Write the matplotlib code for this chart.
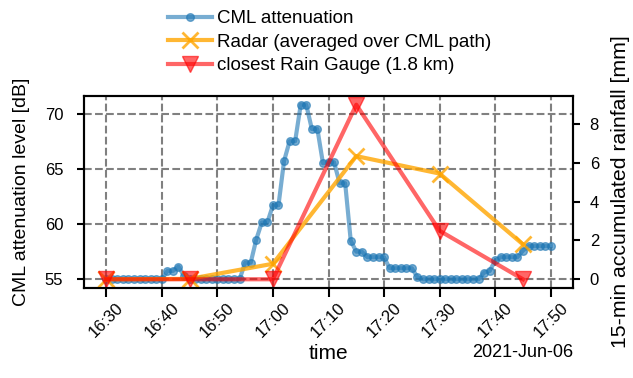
import matplotlib
matplotlib.use('Agg')
import matplotlib.pyplot as plt
import matplotlib.dates as mdates
import pandas as pd
import numpy as np

plt.rcParams['font.family'] = ['Liberation Sans', 'DejaVu Sans']
plt.rcParams['font.size'] = 12

# CML attenuation, 1-min resolution, 16:30 - 17:50
cml_time = pd.date_range('2021-06-06 16:30', '2021-06-06 17:50', freq='1min')
cml_att = [55.0] * 11 + [55.75, 55.75, 56.15, 55.3] + [55.0] * 10 + \
    [56.5, 56.5, 58.6, 60.15, 60.15,
     61.7, 61.7, 65.7, 67.5, 67.5, 70.8, 70.8, 68.6, 68.6, 65.5,
     65.6, 65.6, 63.7, 63.7, 58.5, 57.5, 57.5, 57.0, 57.0, 57.0,
     57.0, 56.0, 56.0, 56.0, 56.0, 56.0, 55.2, 55.0, 55.0, 55.0] + \
    [55.0] * 8 + [55.6, 55.75] + \
    [56.7, 57.0, 57.0, 57.0, 57.0, 57.6, 58.0, 58.0, 58.0, 58.0, 58.0]

# 15-min rainfall
rain_time = pd.date_range('2021-06-06 16:30', '2021-06-06 17:45', freq='15min')
radar_rain = [0.0, 0.02, 0.8, 6.35, 5.45, 1.8]
gauge_rain = [0.0, 0.0, 0.0, 9.0, 2.5, 0.0]

fig = plt.figure(figsize=(6.33, 3.78), dpi=100)
ax = fig.add_axes([84/633, 1-288/378, (573-84)/633, (288-96)/378])
ax2 = ax.twinx()

l1, = ax.plot(cml_time, cml_att, marker='o', color='C0', lw=3, ms=5.5, alpha=0.6,
              label='CML attenuation')
l2, = ax2.plot(rain_time, radar_rain, marker='x', color='orange', lw=3, ms=11,
               mew=2, alpha=0.8, label='Radar (averaged over CML path)')
l3, = ax2.plot(rain_time, gauge_rain, marker='v', color='red', lw=3, ms=11,
               alpha=0.6, label='closest Rain Gauge (1.8 km)')

ax.grid(ls='--', color='gray', lw=1.5)
locator = mdates.MinuteLocator(byminute=range(0, 60, 10))
ax.xaxis.set_major_locator(locator)
ax.xaxis.set_major_formatter(mdates.ConciseDateFormatter(locator))
plt.setp(ax.get_xticklabels(), rotation=45)

for a in (ax, ax2):
    a.tick_params(width=1.5, labelsize=12)
    for s in a.spines.values():
        s.set_linewidth(1.5)
ax.tick_params(axis='x', length=6.5, pad=2)
ax.tick_params(axis='y', length=5, pad=10)
ax2.tick_params(axis='y', length=5, pad=7)
ax.xaxis.get_offset_text().set_fontsize(13)

ax.set_xlabel('time', fontsize=15, labelpad=3)
ax.set_ylabel('CML attenuation level [dB]', fontsize=14)
ax2.set_ylabel('15-min accumulated rainfall [mm]', fontsize=15.3)
ax.yaxis.set_label_coords(-0.11, 0.5)
ax2.yaxis.set_label_coords(1.078, 0.5)

fig.legend(handles=[l1, l2, l3], loc='upper left', frameon=False,
           borderaxespad=0, borderpad=0, fontsize=13.5, labelspacing=0.34,
           handlelength=2.35, handletextpad=0.25,
           bbox_to_anchor=(168/633, 1-10/378))

fig.savefig('out.png', dpi=100)
